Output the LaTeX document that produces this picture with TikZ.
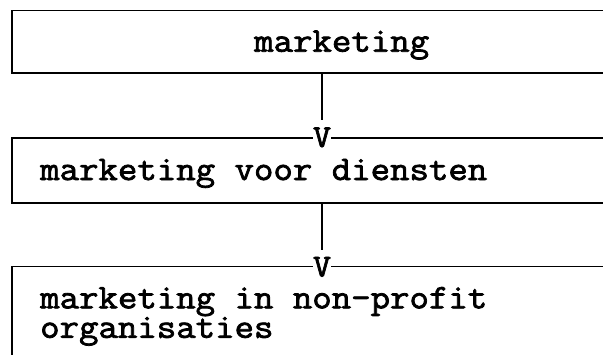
\documentclass[tikz,border=0pt]{standalone}
\usepackage{fontspec}
\newfontfamily\twfont{Latin Modern Mono}[FakeStretch=1.094,FakeBold=2.2]
\begin{document}
\begin{tikzpicture}[x=1pt,y=-1pt,
  boxst/.style={draw,line width=1.8pt,rectangle,inner sep=0pt,anchor=north west,minimum width=640pt},
  txt/.style={anchor=base west,inner sep=0pt,font=\twfont\fontsize{34.5}{29.5}\selectfont},
  vst/.style={anchor=base,inner sep=0pt,fill=white,font=\twfont\fontsize{32}{28}\selectfont},
  conn/.style={line width=1.8pt}]
\path[use as bounding box] (0,0) rectangle (603,354);
\clip (0,0) rectangle (603,354);
\fill[white] (0,0) rectangle (603,354);
\node[boxst,minimum height=62.5pt] (b1) at (11,9.5) {};
\node[boxst,minimum height=65pt] (b2) at (11,136.7) {};
\node[boxst,minimum height=140pt] (b3) at (11,265.5) {};
\node[txt] (t1) at (254,51.7) {marketing};
\node[txt] (t2) at (40,180) {marketing voor diensten};
\node[txt,align=left] (t3) at (40,337.8) {marketing in non-profit\\organisaties};
\node[vst] (v1) at (322,147) {V};
\node[vst] (v2) at (322,276.5) {V};
\draw[conn,shorten >=7pt] (b1.south -| v1) -- (v1.north);
\draw[conn,shorten >=7pt] (b2.south -| v2) -- (v2.north);
\end{tikzpicture}
\end{document}
